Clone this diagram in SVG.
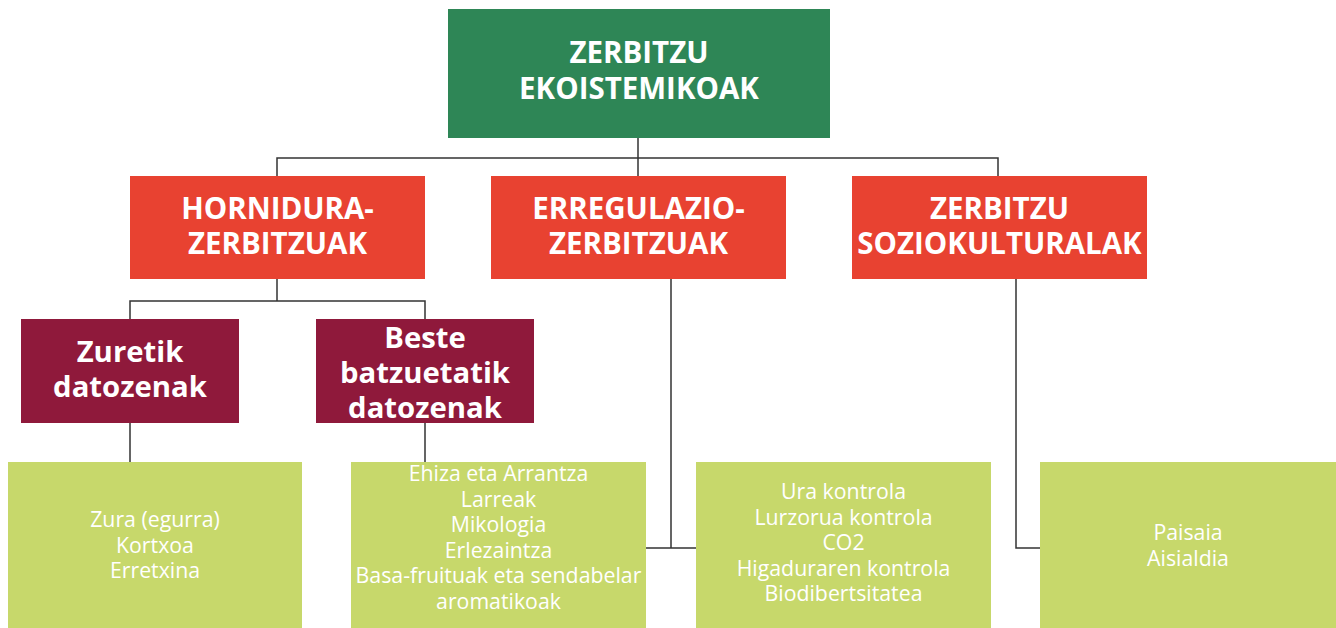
<svg xmlns="http://www.w3.org/2000/svg" width="1336" height="628" viewBox="0 0 1336 628">
<style>
.top{fill:#2E8656}
.red{fill:#E84231}
.mar{fill:#8F193B}
.lg{fill:#C7D86B}
.h{font-family:"Open Sans","Liberation Sans",sans-serif;font-weight:700;font-size:29.5px;fill:#fff;text-anchor:middle}
.m{font-family:"Open Sans","Liberation Sans",sans-serif;font-weight:700;font-size:29.3px;fill:#fff;text-anchor:middle}
.t{font-family:"Open Sans","Liberation Sans",sans-serif;font-weight:400;font-size:21.3px;fill:#fff;text-anchor:middle}
.c{fill:none;stroke:#333;stroke-width:1.5}
</style>
<g id="connectors">
<path class="c" d="M638 138V158M277 176V158H998V176M638 158V176"/>
<path class="c" d="M277 279V301H130V319M277 301H425V319"/>
<path class="c" d="M130 423V462M425 423V462"/>
<path class="c" d="M671 279V548M646 548H696"/>
<path class="c" d="M1016 279V548H1040"/>
</g>
<g id="root">
<rect class="top" x="448" y="9" width="382" height="129"/>
<text class="h" x="639" y="63">ZERBITZU<tspan x="639" dy="36">EKOISTEMIKOAK</tspan></text>
</g>
<g id="hornidura">
<rect class="red" x="130" y="176" width="295" height="103"/>
<text class="h" x="277.5" y="219">HORNIDURA-<tspan x="277.5" dy="35">ZERBITZUAK</tspan></text>
</g>
<g id="erregulazio">
<rect class="red" x="491" y="176" width="295" height="103"/>
<text class="h" x="638.5" y="219">ERREGULAZIO-<tspan x="638.5" dy="35">ZERBITZUAK</tspan></text>
</g>
<g id="soziokulturalak">
<rect class="red" x="852" y="176" width="295" height="103"/>
<text class="h" x="999.5" y="219">ZERBITZU<tspan x="999.5" dy="35">SOZIOKULTURALAK</tspan></text>
</g>
<g id="zuretik">
<rect class="mar" x="21" y="319" width="218" height="104"/>
<text class="m" x="130" y="362">Zuretik<tspan x="130" dy="35">datozenak</tspan></text>
</g>
<g id="beste">
<rect class="mar" x="316" y="319" width="218" height="104"/>
<text class="m" x="425" y="348">Beste<tspan x="425" dy="35">batzuetatik</tspan><tspan x="425" dy="35">datozenak</tspan></text>
</g>
<g id="zura">
<rect class="lg" x="8" y="462" width="294" height="166"/>
<text class="t" x="155" y="527">Zura (egurra)<tspan x="155" dy="25.5">Kortxoa</tspan><tspan x="155" dy="25.5">Erretxina</tspan></text>
</g>
<g id="ehiza">
<rect class="lg" x="351" y="462" width="295" height="166"/>
<text class="t" x="498.5" y="481">Ehiza eta Arrantza<tspan x="498.5" dy="25.5">Larreak</tspan><tspan x="498.5" dy="25.5">Mikologia</tspan><tspan x="498.5" dy="25.5">Erlezaintza</tspan><tspan x="498.5" dy="25.5">Basa-fruituak eta sendabelar</tspan><tspan x="498.5" dy="25.5">aromatikoak</tspan></text>
</g>
<g id="ura">
<rect class="lg" x="696" y="462" width="295" height="166"/>
<text class="t" x="843.5" y="499">Ura kontrola<tspan x="843.5" dy="25.5">Lurzorua kontrola</tspan><tspan x="843.5" dy="25.5">CO2</tspan><tspan x="843.5" dy="25.5">Higaduraren kontrola</tspan><tspan x="843.5" dy="25.5">Biodibertsitatea</tspan></text>
</g>
<g id="paisaia">
<rect class="lg" x="1040" y="462" width="296" height="166"/>
<text class="t" x="1188" y="540">Paisaia<tspan x="1188" dy="25.5">Aisialdia</tspan></text>
</g>
</svg>
